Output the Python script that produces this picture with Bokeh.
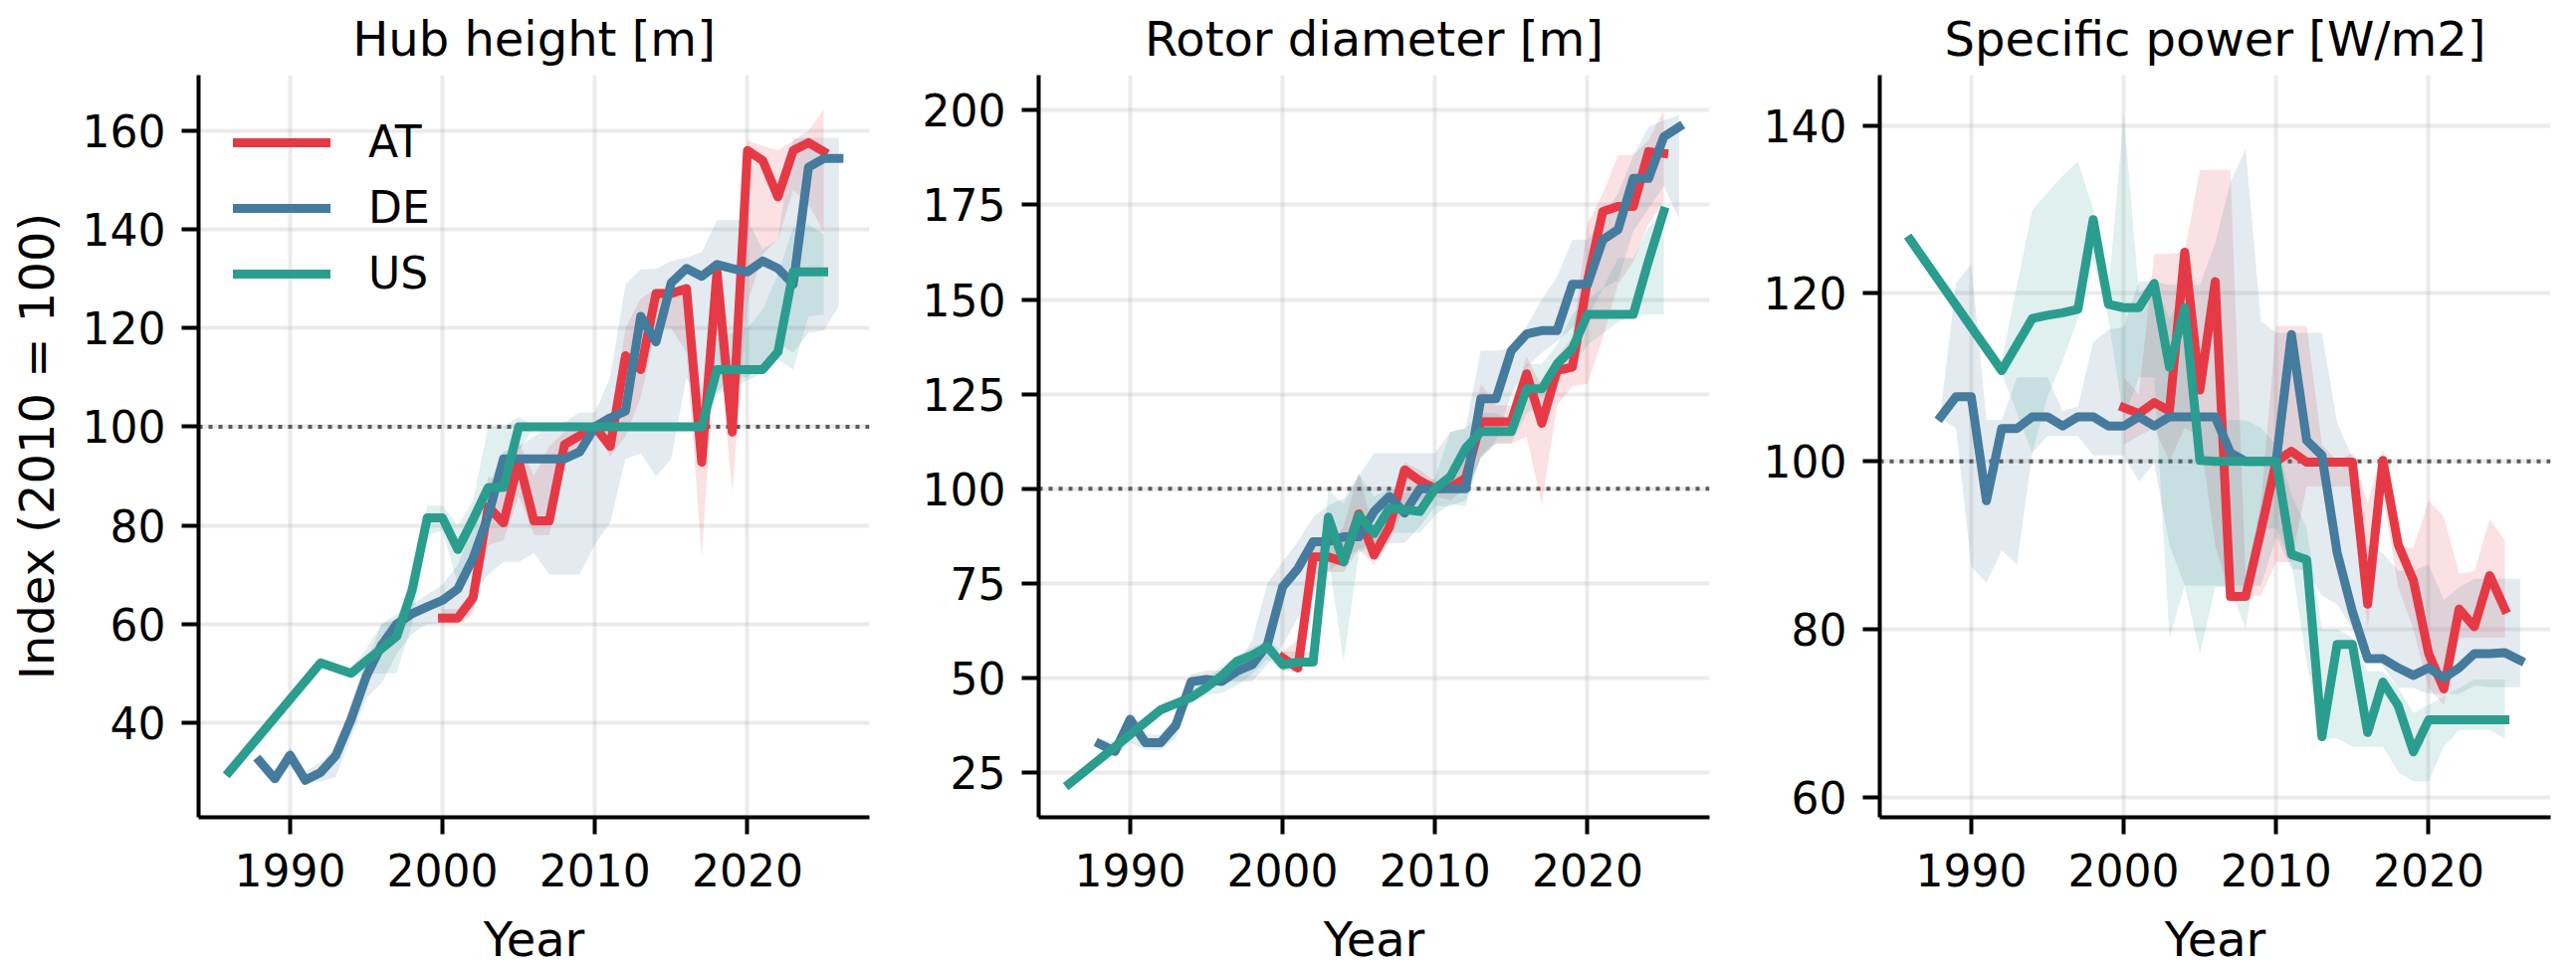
from bokeh.plotting import figure
from bokeh.layouts import row
from bokeh.models import FixedTicker, Span, Range1d
from bokeh.embed import file_html
from bokeh.resources import INLINE

FONT = "DejaVu Sans"
COLORS = {"AT": "#E63946", "DE": "#457B9D", "US": "#2A9D8F"}
COUNTRIES = ["AT", "DE", "US"]

TITLES = ["Hub height [m]", "Rotor diameter [m]", "Specific power [W/m2]"]
X_TICKS = [1990, 2000, 2010, 2020]
Y_TICKS = [[40, 60, 80, 100, 120, 140, 160],
           [25, 50, 75, 100, 125, 150, 175, 200],
           [60, 80, 100, 120, 140]]
Y_LIMITS = [(20.8, 171.3), (13.2, 209.3), (57.6, 146.0)]

AT_YEARS = [2000, 2001, 2002, 2003, 2004, 2005, 2006, 2007, 2008, 2009, 2010, 2011, 2012,
            2013, 2014, 2015, 2016, 2017, 2018, 2019, 2020, 2021, 2022, 2023, 2024, 2025]
DE_YEARS = [1988, 1989, 1990, 1991, 1992, 1993, 1994, 1995, 1996, 1997, 1998, 1999, 2000,
            2001, 2002, 2003, 2004, 2005, 2006, 2007, 2008, 2009, 2010, 2011, 2012, 2013,
            2014, 2015, 2016, 2017, 2018, 2019, 2020, 2021, 2022, 2023, 2024, 2025, 2026]
US_YEARS = [1986, 1992, 1994, 1995, 1996, 1997, 1998, 1999, 2000, 2001, 2002, 2003, 2004,
            2005, 2006, 2007, 2008, 2009, 2010, 2011, 2012, 2013, 2014, 2015, 2016, 2017,
            2018, 2019, 2020, 2021, 2022, 2023, 2024, 2025]

# ---- Hub height index ----
HUB_AT = [61.2, 61.2, 65.3, 83.8, 80.5, 93.1, 80.9, 80.9, 96.4, 98.2, 100.0, 96.0, 114.4,
          111.6, 127.0, 127.0, 128.0, 92.8, 131.5, 98.9, 156.0, 154.0, 146.6, 156.0, 157.6, 155.8]
HUB_AT_LO = [60, 60, 62, 76, 77, 86, 78, 78, 93, 96, 99, 94, 98,
             106, 120, 120, 115, 73.6, 120, 86.6, 125, 135, 138, 148, 145, 139.7]
HUB_AT_HI = [63, 63, 67, 90, 88, 97, 90, 96, 99, 100, 101, 100, 120,
             126, 128, 128, 129, 100, 133, 110, 158, 157, 156, 158, 160, 164.3]
HUB_DE = [32.2, 28.6, 33.4, 28.3, 29.9, 33.3, 40.6, 49.4, 55.7, 60.0, 62.1, 63.5, 64.8,
          67.1, 73.3, 82.0, 93.5, 93.5, 93.5, 93.5, 93.5, 94.9, 100.0, 101.8, 103.2, 122.4,
          117.2, 129.2, 132.1, 130.5, 132.9, 132.1, 131.4, 133.6, 132.1, 128.9, 152.6, 154.4, 154.4]
HUB_DE_LO = [31, 28, 31, 28, 28, 29, 37, 45, 48, 54, 58, 60, 60,
             62, 66, 70, 72.6, 72.6, 74.4, 70, 70, 70, 76.2, 80.5, 93.5, 94.6,
             89.9, 93.5, 110, 103, 107, 110, 110, 112, 117, 115, 119, 119.5, 124.5]
HUB_DE_HI = [34, 30, 35, 30, 32, 35, 44, 52, 60, 62, 64, 66, 68,
             72, 80, 88, 95, 96, 98, 100, 101, 102.9, 102.9, 110, 128.9, 131.9,
             132, 133.6, 134.3, 135.4, 141.9, 141.9, 141.9, 136, 138, 158.5, 158.6, 158.6, 158.6]
HUB_US = [30.0, 52.1, 50.0, 52.5, 55.0, 57.5, 66.8, 81.5, 81.5, 75.1, 81.2, 87.7, 87.7,
          100, 100, 100, 100, 100, 100, 100, 100, 100, 100, 100, 100, 100,
          111.6, 111.6, 111.6, 111.6, 115.2, 131.4, 131.4, 131.4]
HUB_US_LO = [30, 52, 49, 50, 50, 50, 60, 78, 79, 68, 75, 88, 88,
             95, 100, 100, 100, 100, 100, 100, 100, 100, 100, 100, 100, 100,
             106.5, 108, 109.4, 110.8, 113.7, 111.6, 122.4, 122.7]
HUB_US_HI = [30, 52.1, 51, 55, 60, 61, 70, 84, 84, 80, 85, 100, 100,
             102, 100, 100, 100, 100, 100, 100, 100, 100, 100, 100, 100, 101,
             118, 119, 120, 123.8, 131, 140.4, 141, 139]

# ---- Rotor diameter index ----
ROT_AT = [55.3, 52.6, 82.0, 82.0, 80.7, 93.4, 82.5, 89.9, 105.0, 102.1, 100.0, 100.3, 102.8,
          117.7, 117.7, 117.7, 130.4, 117.3, 131.3, 132.1, 155.0, 173.3, 174.6, 174.6, 189.1, 188.6]
ROT_AT_LO = [51.8, 51.8, 77, 78, 78, 84, 80, 86, 95, 97, 98, 97, 100,
             108, 112, 112, 113.7, 95.8, 122, 127, 127.8, 140, 154, 160, 170, 176]
ROT_AT_HI = [57, 60, 85, 85, 90, 104.4, 88, 94, 107, 105, 102, 103, 108,
             127.8, 122, 122, 135, 127, 135, 140, 170, 178, 188.2, 188.2, 192, 200]
ROT_DE = [32.6, 30.6, 39.1, 32.9, 32.9, 37.5, 49.0, 49.6, 49.1, 51.8, 53.5, 58.8, 74.1,
          78.9, 86.0, 86.0, 87.3, 87.3, 94.0, 98.0, 93.6, 100.0, 100.0, 100.0, 100.0, 123.8,
          123.8, 136.5, 140.9, 141.8, 141.8, 154.0, 154.0, 165.8, 168.5, 182.0, 182.0, 193.0, 195.6]
ROT_DE_LO = [31, 29, 33, 31, 31, 34, 45, 47.8, 49, 49, 49.1, 53.5, 58.8,
             65.8, 72.8, 78, 81.6, 84, 85.7, 85.7, 85.7, 90, 95.4, 95.4, 97, 108.5,
             112.9, 125, 132, 136, 139, 142.6, 145, 153, 155, 168, 174, 180, 171.5]
ROT_DE_HI = [34, 33, 41, 35, 35, 40, 51, 52, 52, 53.5, 60, 75, 80.7,
             86, 92.5, 95.6, 97.4, 103.5, 109.4, 109.4, 109.4, 109.4, 109.4, 115, 116, 136.5,
             136.5, 137, 143, 150, 156, 165.8, 165.8, 172, 178, 188, 195.6, 197.4, 198.7]
ROT_US = [22.0, 41.6, 44.9, 47.5, 50.6, 54.4, 56.0, 58.3, 53.5, 54.2, 54.2, 92.5, 80.7,
          93.0, 88.2, 94.9, 94.5, 94.0, 100.0, 103.2, 110.7, 115.1, 115.1, 115.1, 126.4, 126.4,
          133.0, 137.0, 146.1, 146.1, 146.1, 146.1, 160.2, 173.3]
ROT_US_LO = [22, 41, 43, 45.6, 46, 48, 51, 55, 52, 53, 53, 82, 54.4,
             83, 85, 88.4, 88.4, 88.4, 93, 96, 95.4, 108.5, 112, 112, 120, 122,
             128, 132, 138, 141, 144, 146.1, 146.1, 146.1]
ROT_US_HI = [22, 42, 46, 50, 53, 56, 58, 60, 57, 57, 57, 99.6, 96,
             103.8, 98, 100, 99, 99, 103, 115, 116, 120, 120, 118, 133, 133,
             138, 146, 150, 153, 161, 161, 169, 174]

# ---- Specific power index ----
SP_AT = [106.4, 105.7, 107.0, 106.0, 124.9, 108.5, 121.4, 83.9, 83.9, 91.7, 100.0, 101.2, 99.9,
         99.9, 99.9, 99.9, 83.0, 100.1, 90.1, 85.8, 77.1, 72.9, 82.4, 80.3, 86.4, 82.4]
SP_AT_LO = [102, 103, 104, 100, 104, 103, 90, 84, 84, 84, 88, 88, 97,
            97, 97, 97, 80, 96, 85, 80, 73, 71, 79, 79, 79, 79]
SP_AT_HI = [110, 108, 124.7, 124.7, 125, 134.7, 134.7, 134.7, 86, 95, 116.1, 116.1, 116.1,
            102, 100, 101, 95, 101.5, 89.7, 89.7, 95.3, 93.4, 86.6, 86.9, 93.1, 90.6]
SP_DE = [105.3, 107.7, 107.7, 95.3, 103.9, 103.9, 105.3, 105.3, 104.2, 105.3, 105.3, 104.2, 104.2,
         105.3, 104.2, 105.3, 105.3, 105.3, 105.3, 101.0, 100.0, 100.0, 100.0, 115.1, 102.5, 100.7,
         89.1, 82.1, 76.5, 76.5, 75.4, 74.5, 75.4, 74.2, 75.4, 77.1, 77.1, 77.2, 76.3]
SP_DE_LO = [105, 104, 87.5, 85.5, 89.4, 87.7, 101, 103, 103, 103, 100.7, 100.7, 100.7,
            97.6, 99.8, 90, 85.2, 85.2, 85.2, 85.2, 85.2, 85.2, 91, 87.2, 87, 84,
            83, 80, 78, 75.6, 73, 73, 72.3, 72.3, 72.3, 73.3, 73.1, 73.1, 73.1]
SP_DE_HI = [106, 121.2, 123.5, 104.9, 104.9, 110, 110, 110, 106, 106.5, 114.2, 115.7, 116,
            121.4, 121.4, 121, 121, 121, 126, 133.3, 137.2, 116.7, 115.3, 115.3, 115.3, 115.3,
            104.6, 100.4, 90, 89, 87, 87, 87.7, 83.5, 85, 86, 86, 86, 86]
SP_US = [126.4, 110.8, 117.0, 117.4, 117.7, 118.1, 128.8, 118.7, 118.3, 118.3, 121.2, 111.2, 118.3,
         100.1, 100, 100, 100, 100, 100, 88.9, 88.3, 67.2, 78.2, 78.2, 67.7, 73.7,
         70.9, 65.4, 69.2, 69.2, 69.2, 69.2, 69.2, 69.2]
SP_US_LO = [126.4, 110.5, 101, 107.7, 112, 117, 124, 117, 105, 110, 110, 79, 85.2,
            77, 85, 85, 80, 92, 92, 88, 76, 67, 67, 66, 66, 66,
            63, 61.9, 61.9, 66, 68, 68, 68, 67]
SP_US_HI = [126.4, 112, 129.9, 132, 134, 135.7, 130, 120, 141.4, 120, 121.5, 117, 120,
            104.9, 104.9, 104.9, 104.9, 104, 102, 96, 92, 80, 80, 79, 75, 75,
            73, 70, 71, 72, 73, 74, 74, 74]

YEARS = {"AT": AT_YEARS, "DE": DE_YEARS, "US": US_YEARS}
PANELS = [
    {"AT": (HUB_AT, HUB_AT_LO, HUB_AT_HI), "DE": (HUB_DE, HUB_DE_LO, HUB_DE_HI),
     "US": (HUB_US, HUB_US_LO, HUB_US_HI)},
    {"AT": (ROT_AT, ROT_AT_LO, ROT_AT_HI), "DE": (ROT_DE, ROT_DE_LO, ROT_DE_HI),
     "US": (ROT_US, ROT_US_LO, ROT_US_HI)},
    {"AT": (SP_AT, SP_AT_LO, SP_AT_HI), "DE": (SP_DE, SP_DE_LO, SP_DE_HI),
     "US": (SP_US, SP_US_LO, SP_US_HI)},
]

BORDER_LEFT = [199, 160, 161]


def make_panel(i):
    p = figure(frame_width=674, frame_height=746,
               min_border_left=BORDER_LEFT[i], min_border_right=10,
               min_border_top=73, min_border_bottom=130,
               x_range=Range1d(1984, 2028), y_range=Range1d(*Y_LIMITS[i]),
               output_backend="svg", toolbar_location=None,
               title=TITLES[i])
    p.outline_line_color = None
    p.background_fill_color = "white"
    p.border_fill_color = "white"

    p.title.text_font = FONT
    p.title.text_font_size = "48px"
    p.title.text_font_style = "normal"
    p.title.align = "center"
    p.title.standoff = 17
    p.title.text_color = "black"

    p.xaxis.ticker = FixedTicker(ticks=X_TICKS)
    p.yaxis.ticker = FixedTicker(ticks=Y_TICKS[i])
    for ax in (p.xaxis, p.yaxis):
        ax.axis_line_width = 4
        ax.axis_line_color = "black"
        ax.major_tick_line_width = 4
        ax.major_tick_line_color = "black"
        ax.major_tick_out = 17
        ax.major_tick_in = 0
        ax.minor_tick_out = 0
        ax.minor_tick_in = 0
        ax.major_label_text_font = FONT
        ax.major_label_text_font_size = "44px"
        ax.major_label_text_color = "black"
        ax.axis_label_text_font = FONT
        ax.axis_label_text_font_size = "48px"
        ax.axis_label_text_font_style = "normal"
        ax.axis_label_text_color = "black"
    p.xaxis.major_label_standoff = 19
    p.yaxis.major_label_standoff = 16
    p.xaxis.axis_label = "Year"
    p.xaxis.axis_label_standoff = 22
    if i == 0:
        p.yaxis.axis_label = "Index (2010 = 100)"
        p.yaxis.axis_label_standoff = 15

    for g in (p.xgrid, p.ygrid):
        g.grid_line_color = "#b0b0b0"
        g.grid_line_alpha = 0.25
        g.grid_line_width = 4

    ref = Span(location=100, dimension="width", line_color="#5a5a5a",
               line_alpha=1.0, line_width=4, line_dash="4 6", level="underlay")
    p.add_layout(ref)

    data = PANELS[i]
    for c in COUNTRIES:
        v, lo, hi = data[c]
        p.varea(x=YEARS[c], y1=lo, y2=hi, fill_color=COLORS[c], fill_alpha=0.15)
    for c in COUNTRIES:
        v, lo, hi = data[c]
        kw = {"legend_label": c} if i == 0 else {}
        p.line(x=YEARS[c], y=v, line_color=COLORS[c], line_width=9,
               line_join="round", line_cap="square", **kw)

    if i == 0:
        lg = p.legend[0]
        lg.location = (35, 521)
        lg.border_line_color = None
        lg.background_fill_alpha = 0
        lg.padding = 0
        lg.margin = 0
        lg.spacing = 15
        lg.glyph_width = 98
        lg.glyph_height = 50
        lg.label_height = 50
        lg.label_standoff = 38
        lg.label_text_font = FONT
        lg.label_text_font_size = "44px"
        lg.label_text_color = "black"
    return p


figs = [make_panel(i) for i in range(3)]
layout = row(*figs)
open("out.html", "w").write(file_html(layout, INLINE))
